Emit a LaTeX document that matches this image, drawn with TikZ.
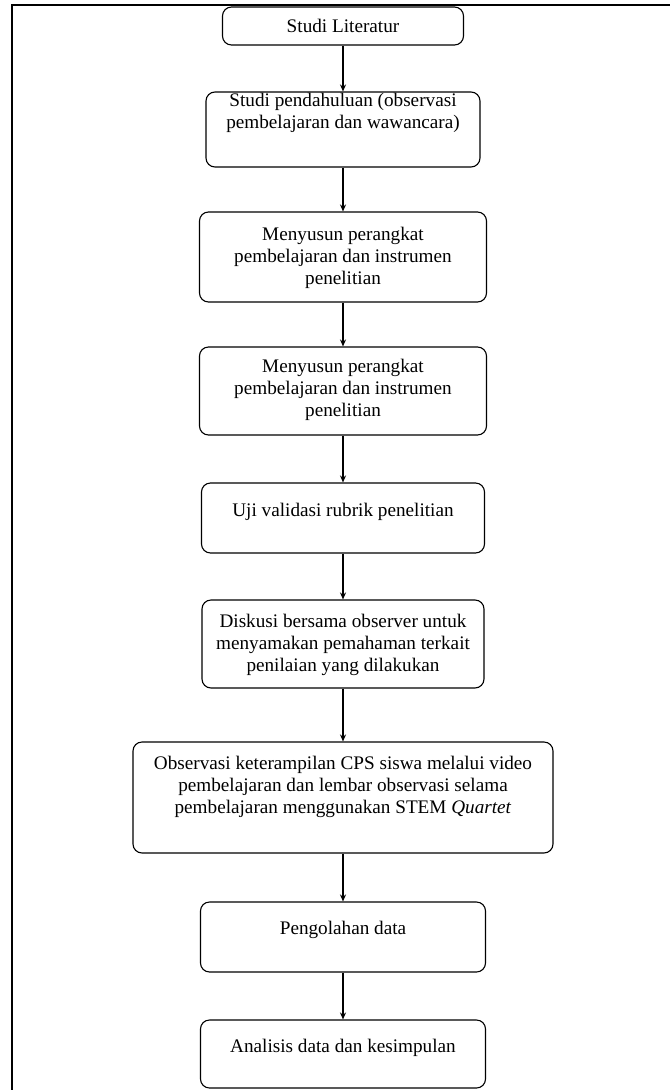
\documentclass[tikz,border=0pt]{standalone}
\usepackage{fontspec}
\setmainfont{Liberation Serif}
\usetikzlibrary{arrows.meta}

\begin{document}
\begin{tikzpicture}[x=1pt, y=-1pt,
    stepbox/.style={draw, line width=1.1pt, rounded corners=9pt, inner sep=0pt},
    steptext/.style={align=center, inner sep=0pt, font=\fontsize{19.2}{22}\selectfont},
    arrow/.style={line width=1.1pt, -{Stealth[length=7pt, width=6pt]}}]
    \useasboundingbox (0,0) rectangle (670,1090);

    % Bingkai
    \draw[line width=1.8pt] (12,1090) -- (12,5) -- (670,5);

    % Kotak langkah
    \node[stepbox, minimum width=241pt, minimum height=38pt] (b1) at (343,26) {};
    \node[stepbox, minimum width=274pt, minimum height=75pt] (b2) at (343,129.5) {};
    \node[stepbox, minimum width=287pt, minimum height=90pt] (b3) at (343,257) {};
    \node[stepbox, minimum width=287pt, minimum height=88pt] (b4) at (343,391) {};
    \node[stepbox, minimum width=283pt, minimum height=70pt] (b5) at (343,518) {};
    \node[stepbox, minimum width=282pt, minimum height=88pt] (b6) at (343,644) {};
    \node[stepbox, minimum width=420pt, minimum height=111pt] (b7) at (343,797.5) {};
    \node[stepbox, minimum width=285pt, minimum height=70pt] (b8) at (343,937) {};
    \node[stepbox, minimum width=285pt, minimum height=68pt] (b9) at (343,1054) {};

    % Teks
    \node[steptext] (t1) at (343,26) {Studi Literatur};
    \node[steptext] (t2) at (343,113) {Studi pendahuluan (observasi\\pembelajaran dan wawancara)};
    \node[steptext] (t3) at (343,258) {Menyusun perangkat\\pembelajaran dan instrumen\\penelitian};
    \node[steptext] (t4) at (343,390) {Menyusun perangkat\\pembelajaran dan instrumen\\penelitian};
    \node[steptext] (t5) at (343,512) {Uji validasi rubrik penelitian};
    \node[steptext] (t6) at (343,645) {Diskusi bersama observer untuk\\menyamakan pemahaman terkait\\penilaian yang dilakukan};
    \node[steptext] (t7) at (343,787) {Observasi keterampilan CPS siswa melalui video\\pembelajaran dan lembar observasi selama\\pembelajaran menggunakan STEM \textit{Quartet}};
    \node[steptext] (t8) at (343,930) {Pengolahan data};
    \node[steptext] (t9) at (343,1048) {Analisis data dan kesimpulan};

    % Panah
    \foreach \a/\b in {b1/b2, b2/b3, b3/b4, b4/b5, b5/b6, b6/b7, b7/b8, b8/b9}
        \draw[arrow] (\a) -- (\b);
\end{tikzpicture}
\end{document}
